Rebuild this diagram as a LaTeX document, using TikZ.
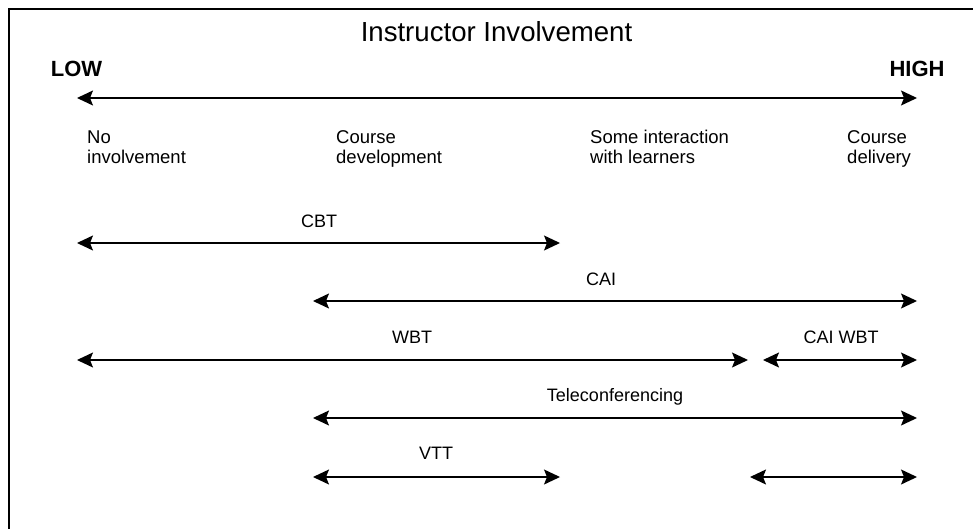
\documentclass[tikz,border=0pt]{standalone}
\usepackage{fontspec}
\setmainfont{Liberation Sans}
\usetikzlibrary{arrows.meta}
\begin{document}
\begin{tikzpicture}[x=1pt,y=-1pt,
  span/.style={line width=1.3pt,{Stealth[length=16pt,width=15pt,inset=3pt]}-{Stealth[length=16pt,width=15pt,inset=3pt]}},
  tag/.style={font=\fontsize{18}{20}\selectfont,inner sep=0pt,anchor=base},
  stage/.style={font=\fontsize{18.5}{20}\selectfont,inner sep=0pt,anchor=base west,align=left},
  endtag/.style={font=\fontsize{22}{24}\selectfont\bfseries,inner sep=0pt,anchor=base},
  heading/.style={font=\fontsize{27.6}{30}\selectfont,inner sep=0pt,anchor=base}]
\useasboundingbox (0,0) rectangle (973,529);
% outer frame, running off the right and bottom edges
\begin{scope}
  \clip (0,0) rectangle (973,529);
  \draw[line width=1.6pt] (9,9) rectangle (1000,560);
\end{scope}

% heading and scale ends
\node[heading] (title) at (496.5,42) {Instructor Involvement};
\node[endtag] (low) at (76.5,77) {LOW};
\node[endtag] (high) at (917,77) {HIGH};

\coordinate (lo) at (77,98);
\coordinate (hi) at (917,98);
\draw[span] (lo) -- (hi);

% stages along the scale (anchored on the baseline of the second line)
\node[stage] (s1) at (87,164) {No\\involvement};
\node[stage] (s2) at (336,164) {Course\\development};
\node[stage] (s3) at (590,164) {Some interaction\\with learners};
\node[stage] (s4) at (847,164) {Course\\delivery};

% delivery methods and their ranges
\coordinate (cbtA) at (77,243);  \coordinate (cbtB) at (560,243);
\draw[span] (cbtA) -- (cbtB);
\node[tag] (cbt) at (319,227) {CBT};

\coordinate (caiA) at (313,301); \coordinate (caiB) at (917,301);
\draw[span] (caiA) -- (caiB);
\node[tag] (cai) at (601,285) {CAI};

\coordinate (wbtA) at (77,360);  \coordinate (wbtB) at (748,360);
\draw[span] (wbtA) -- (wbtB);
\node[tag] (wbt) at (412,343) {WBT};

\coordinate (cwA) at (763,360);  \coordinate (cwB) at (917,360);
\draw[span] (cwA) -- (cwB);
\node[tag] (caiwbt) at (841,343) {CAI WBT};

\coordinate (telA) at (313,418); \coordinate (telB) at (917,418);
\draw[span] (telA) -- (telB);
\node[tag] (tel) at (615,401) {Teleconferencing};

\coordinate (vttA) at (313,477); \coordinate (vttB) at (560,477);
\draw[span] (vttA) -- (vttB);
\node[tag] (vtt) at (436,459) {VTT};

\coordinate (vtA) at (750,477);  \coordinate (vtB) at (917,477);
\draw[span] (vtA) -- (vtB);
\end{tikzpicture}
\end{document}
